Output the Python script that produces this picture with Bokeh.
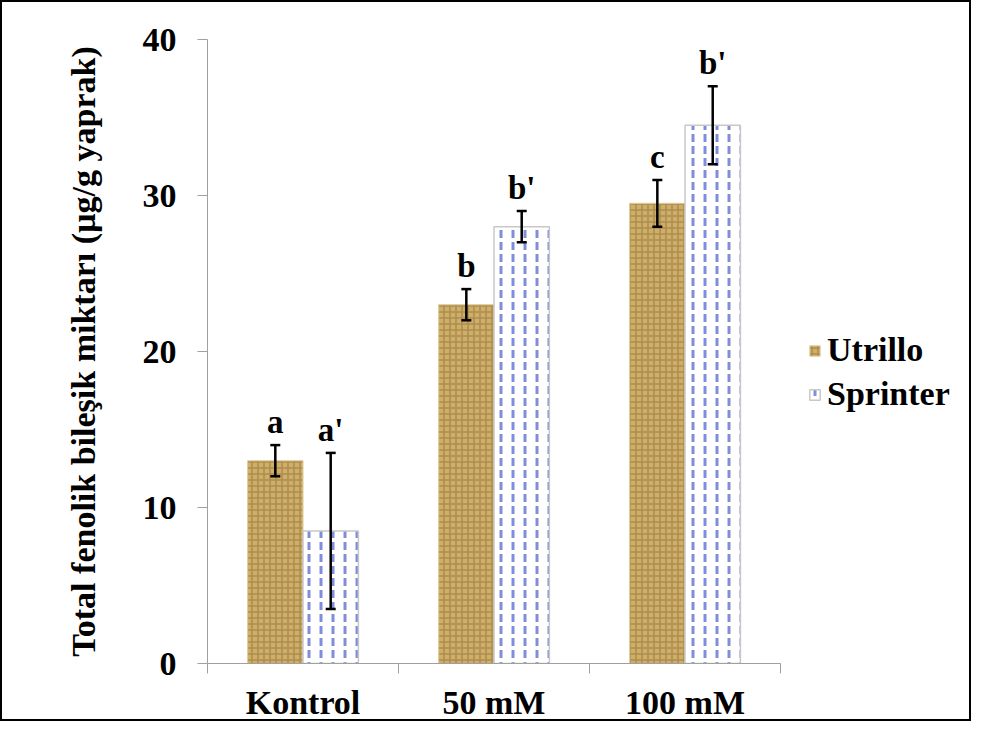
import numpy as np
from bokeh.plotting import figure
from bokeh.models import ColumnDataSource, Range1d, FixedTicker, Whisker, TeeHead, Legend, LegendItem
from bokeh.embed import file_html
from bokeh.resources import INLINE

# ---- data ----
categories = ["Kontrol", "50 mM", "100 mM"]
utrillo = [13.0, 23.0, 29.5]
utrillo_err = [1.0, 1.0, 1.5]
utrillo_letters = ["a", "b", "c"]
sprinter = [8.5, 28.0, 34.5]
sprinter_err = [5.0, 1.0, 2.5]
sprinter_letters = ["a'", "b'", "b'"]
y_ticks = [0, 10, 20, 30, 40]

FONT = "Liberation Serif"
BAR_W = 0.29
centers = np.arange(len(categories)) + 0.5

def make_src(vals, errs, letters, shift):
    v = np.array(vals); e = np.array(errs)
    return ColumnDataSource(dict(x=centers + shift, top=v, upper=v + e, lower=v - e, letter=letters))

src_u = make_src(utrillo, utrillo_err, utrillo_letters, -BAR_W / 2)
src_s = make_src(sprinter, sprinter_err, sprinter_letters, BAR_W / 2)

W, H = 971, 721
BORDER = 2
LEFT, RIGHT, TOP, BOTTOM = 205, 10, 37, 59
p = figure(width=W, height=H, output_backend="svg", toolbar_location=None,
           x_range=Range1d(0, (W - 2 * BORDER - LEFT - RIGHT) / 190), y_range=Range1d(0, 40),
           min_border_left=LEFT, min_border_right=RIGHT, min_border_top=TOP, min_border_bottom=BOTTOM)
p.outline_line_color = None
p.grid.grid_line_color = None
p.background_fill_color = "white"
p.styles = {"border": f"{BORDER}px solid black"}

ru = p.vbar(x="x", top="top", width=BAR_W, bottom=0, source=src_u,
            fill_color="#cfae68", line_color="#e0cc9a", line_width=1,
            hatch_pattern="cross", hatch_color="#7a5c2a", hatch_alpha=0.4,
            hatch_scale=6, hatch_weight=1.5)
rs = p.vbar(x="x", top="top", width=BAR_W, bottom=0, source=src_s,
            fill_color="white", line_color="#c8c8c8", line_width=1.5,
            hatch_pattern="vertical_dash", hatch_color="#4a5cc8", hatch_alpha=0.7,
            hatch_scale=12, hatch_weight=3)

for src in (src_u, src_s):
    p.add_layout(Whisker(source=src, base="x", upper="upper", lower="lower", level="overlay",
                         line_color="black", line_width=2.5,
                         upper_head=TeeHead(size=10, line_width=2.5, line_color="black"),
                         lower_head=TeeHead(size=10, line_width=2.5, line_color="black")))
    p.text(x="x", y="upper", text="letter", source=src, text_align="center",
           text_baseline="bottom", y_offset=-5, text_font={"value": FONT},
           text_font_style="bold", text_font_size="33px", text_color="black")

# axes
p.yaxis.ticker = FixedTicker(ticks=y_ticks)
p.yaxis.axis_line_color = "#a0a0a0"
p.yaxis.major_tick_line_color = "#a0a0a0"
p.yaxis.major_tick_out = 10
p.yaxis.major_tick_in = 0
p.yaxis.minor_tick_line_color = None
p.yaxis.major_label_text_font = FONT
p.yaxis.major_label_text_font_style = "bold"
p.yaxis.major_label_text_font_size = "34px"
p.yaxis.major_label_text_color = "black"
p.yaxis.major_label_standoff = 21
p.yaxis.axis_label = "Total fenolik bileşik miktarı (µg/g yaprak)"
p.yaxis.axis_label_text_font = FONT
p.yaxis.axis_label_text_font_style = "bold"
p.yaxis.axis_label_text_font_size = "34px"
p.yaxis.axis_label_text_color = "black"
p.yaxis.axis_label_standoff = 38

p.xaxis.ticker = FixedTicker(ticks=list(centers), minor_ticks=list(range(len(categories) + 1)))
p.xaxis.major_label_overrides = {float(c): n for c, n in zip(centers, categories)}
p.xaxis.bounds = (0, len(categories))
p.xaxis.axis_line_color = "#a0a0a0"
p.xaxis.major_tick_line_color = None
p.xaxis.major_tick_out = 0
p.xaxis.minor_tick_line_color = "#a0a0a0"
p.xaxis.minor_tick_out = 10
p.xaxis.minor_tick_in = 0
p.xaxis.major_label_text_font = FONT
p.xaxis.major_label_text_font_style = "bold"
p.xaxis.major_label_text_font_size = "34px"
p.xaxis.major_label_text_color = "black"
p.xaxis.major_label_standoff = 10

legend = Legend(items=[LegendItem(label="Utrillo", renderers=[ru]),
                       LegendItem(label="Sprinter", renderers=[rs])],
                location=(601, 250), orientation="vertical",
                label_text_font=FONT, label_text_font_style="bold",
                label_text_font_size="34px", label_text_color="black",
                glyph_width=13, glyph_height=13,
                label_height=32, spacing=6, padding=0, margin=0,
                border_line_color=None, background_fill_alpha=0, label_standoff=6)
p.add_layout(legend)

open("out.html", "w").write(file_html(p, INLINE))
